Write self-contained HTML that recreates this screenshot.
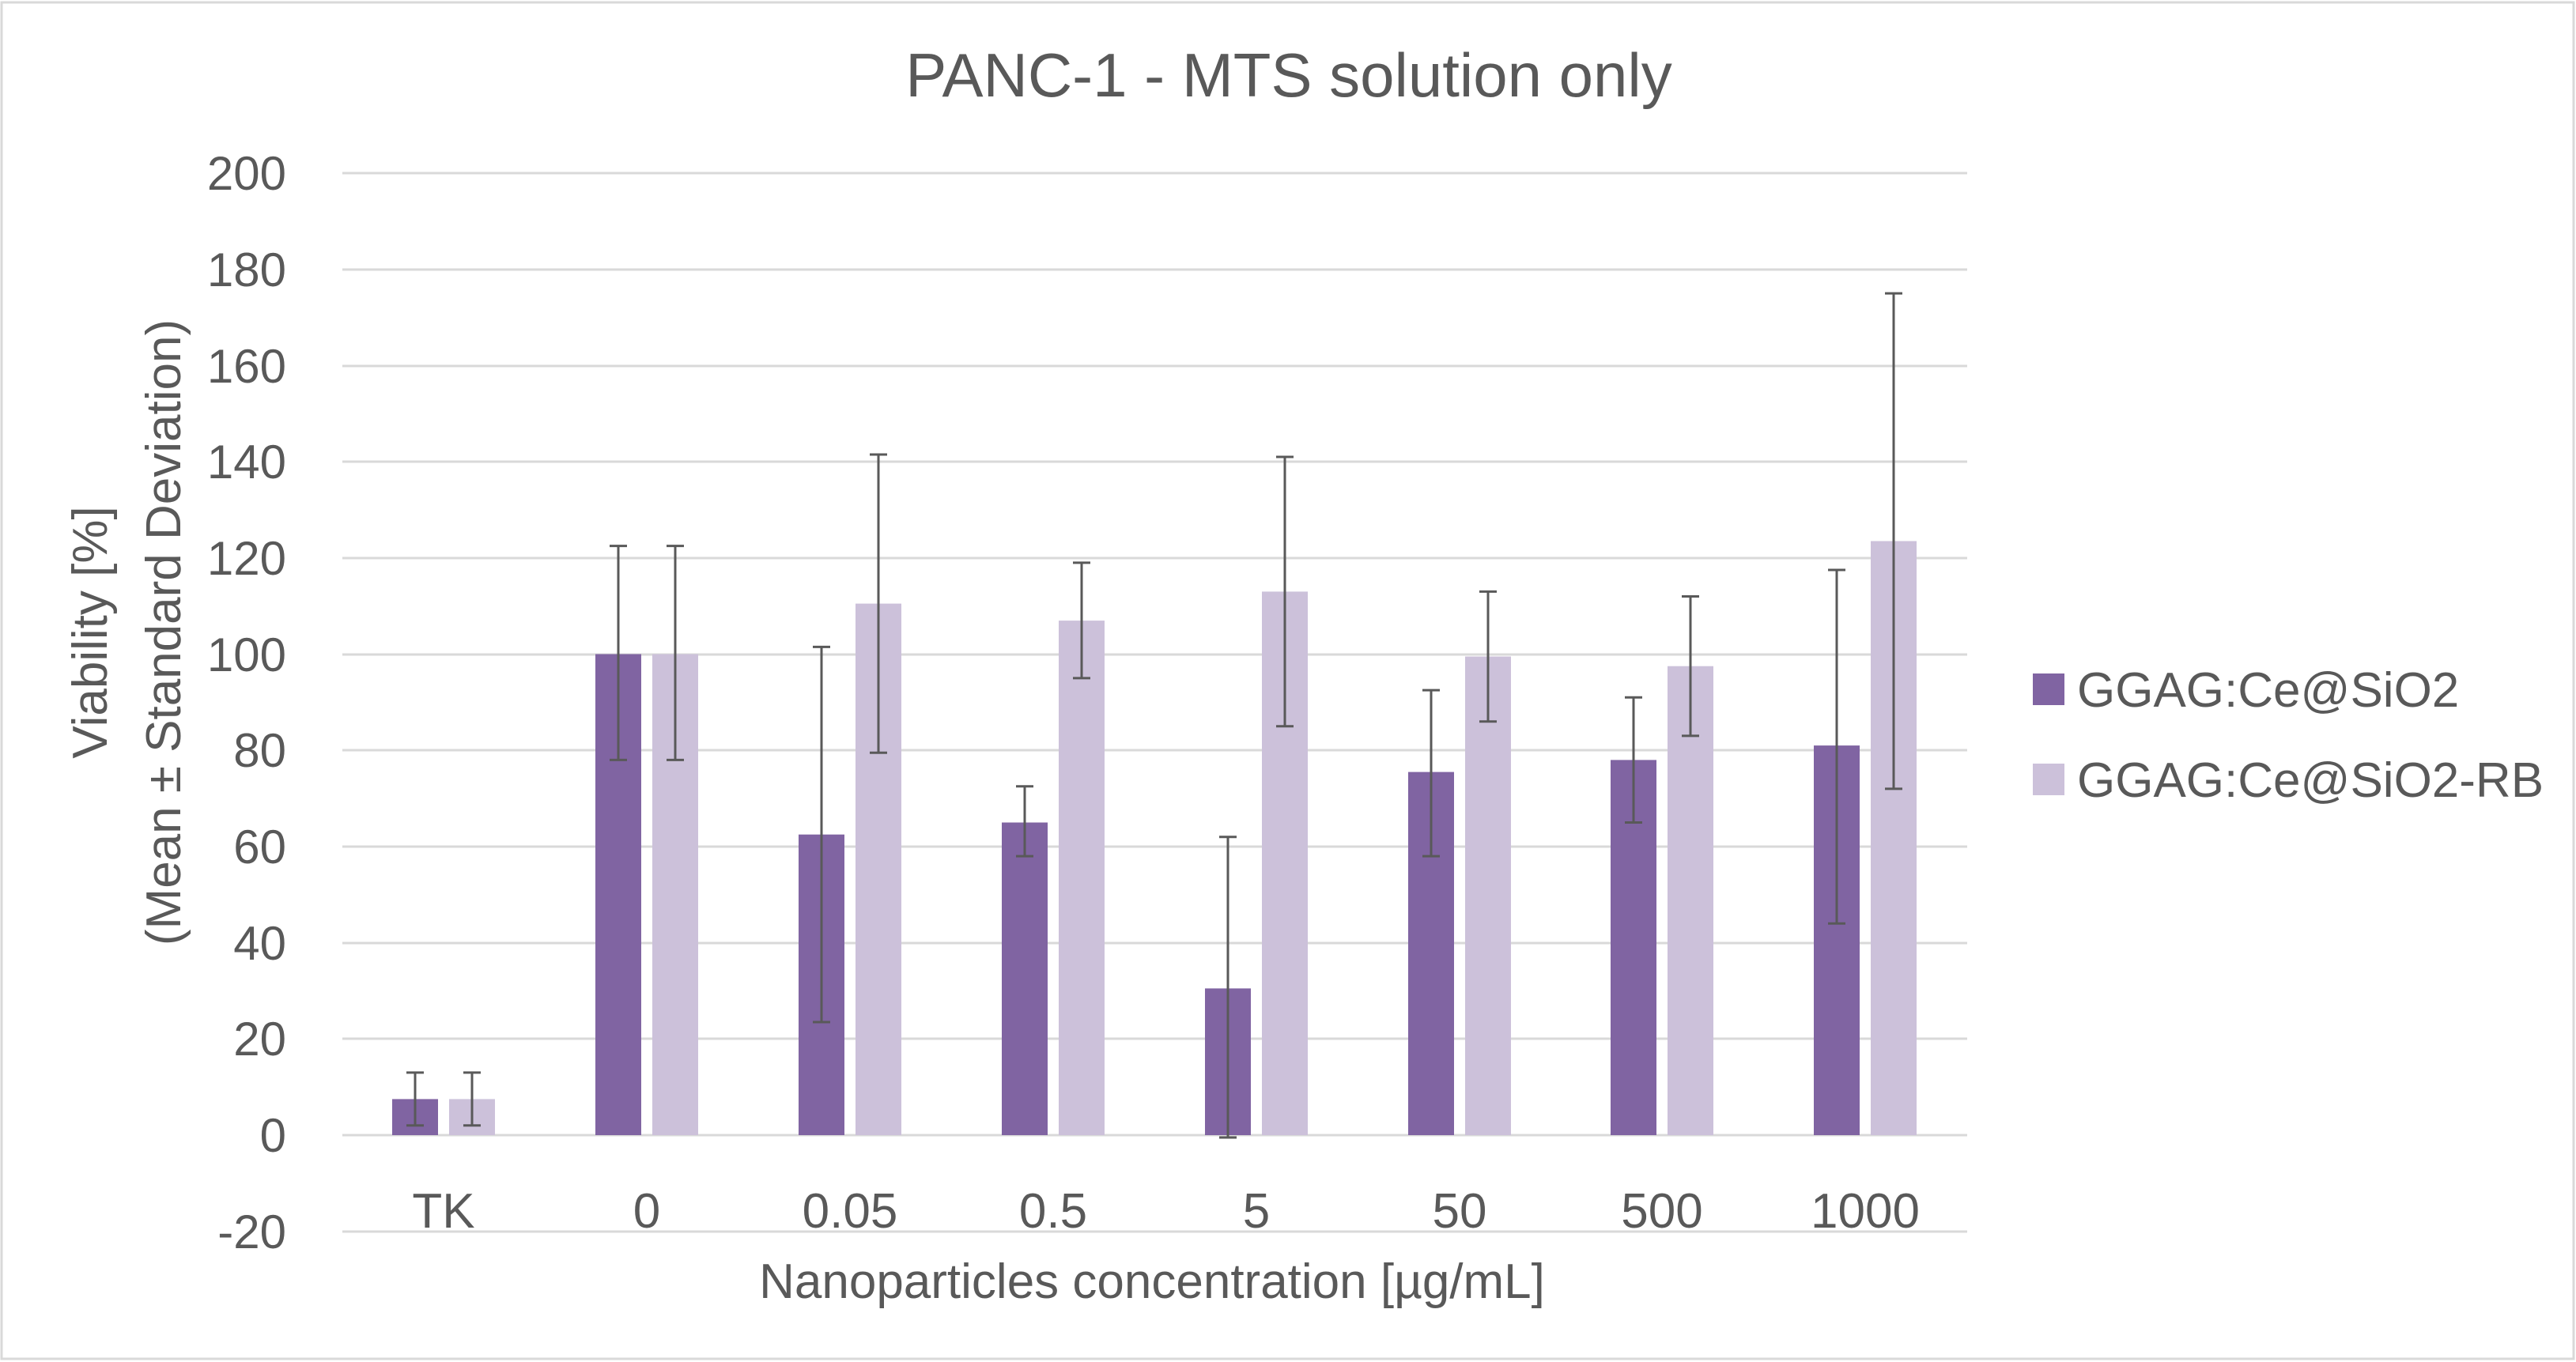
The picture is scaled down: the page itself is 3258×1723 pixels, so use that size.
<!DOCTYPE html>
<html><head><meta charset="utf-8"><style>
html,body{margin:0;padding:0;background:#fff;}
svg{display:block;}
text{font-family:"Liberation Sans",sans-serif;fill:#595959;}
</style></head><body>
<svg width="3258" height="1723" viewBox="0 0 3258 1723" xmlns="http://www.w3.org/2000/svg">
<rect x="2" y="3" width="3253" height="1716" fill="#fff" stroke="#d9d9d9" stroke-width="3"/>
<text x="1630" y="122" font-size="78" text-anchor="middle">PANC-1 - MTS solution only</text>
<g stroke="#d9d9d9" stroke-width="3">
<line x1="433" x2="2488" y1="219" y2="219"/>
<line x1="433" x2="2488" y1="341" y2="341"/>
<line x1="433" x2="2488" y1="463" y2="463"/>
<line x1="433" x2="2488" y1="584" y2="584"/>
<line x1="433" x2="2488" y1="706" y2="706"/>
<line x1="433" x2="2488" y1="828" y2="828"/>
<line x1="433" x2="2488" y1="949" y2="949"/>
<line x1="433" x2="2488" y1="1071" y2="1071"/>
<line x1="433" x2="2488" y1="1193" y2="1193"/>
<line x1="433" x2="2488" y1="1314" y2="1314"/>
<line x1="433" x2="2488" y1="1436" y2="1436"/>
<line x1="433" x2="2488" y1="1558" y2="1558"/>
</g>
<g font-size="60" text-anchor="end">
<text x="362" y="240">200</text>
<text x="362" y="362">180</text>
<text x="362" y="484">160</text>
<text x="362" y="605">140</text>
<text x="362" y="727">120</text>
<text x="362" y="849">100</text>
<text x="362" y="970">80</text>
<text x="362" y="1092">60</text>
<text x="362" y="1214">40</text>
<text x="362" y="1335">20</text>
<text x="362" y="1457">0</text>
<text x="362" y="1579">-20</text>
</g>
<g font-size="62" text-anchor="middle">
<text x="561" y="1553">TK</text>
<text x="818" y="1553">0</text>
<text x="1075" y="1553">0.05</text>
<text x="1332" y="1553">0.5</text>
<text x="1589" y="1553">5</text>
<text x="1846" y="1553">50</text>
<text x="2102" y="1553">500</text>
<text x="2359" y="1553">1000</text>
</g>
<text x="1457" y="1642" font-size="62" text-anchor="middle">Nanoparticles concentration [µg/mL]</text>
<text transform="translate(135,800) rotate(-90)" font-size="62" text-anchor="middle">Viability [%]</text>
<text transform="translate(228,800) rotate(-90)" font-size="62" text-anchor="middle">(Mean ± Standard Deviation)</text>

<g fill="#8064a2">
<rect x="496" y="1390.4" width="58" height="45.6"/>
<rect x="753" y="827.5" width="58" height="608.5"/>
<rect x="1010" y="1055.7" width="58" height="380.3"/>
<rect x="1267" y="1040.5" width="58" height="395.5"/>
<rect x="1524" y="1250.4" width="58" height="185.6"/>
<rect x="1781" y="976.6" width="58" height="459.4"/>
<rect x="2037" y="961.4" width="58" height="474.6"/>
<rect x="2294" y="943.1" width="58" height="492.9"/>
</g>
<g fill="#ccc1da">
<rect x="568" y="1390.4" width="58" height="45.6"/>
<rect x="825" y="827.5" width="58" height="608.5"/>
<rect x="1082" y="763.6" width="58" height="672.4"/>
<rect x="1339" y="785.1" width="58" height="650.9"/>
<rect x="1596" y="748.4" width="58" height="687.6"/>
<rect x="1853" y="830.5" width="58" height="605.5"/>
<rect x="2109" y="842.7" width="58" height="593.3"/>
<rect x="2366" y="684.5" width="58" height="751.5"/>
</g>
<g stroke="#595959" stroke-width="3" fill="none">
<path d="M525,1356.9V1423.8M514,1356.9h22M514,1423.8h22"/>
<path d="M597,1356.9V1423.8M586,1356.9h22M586,1423.8h22"/>
<path d="M782,690.6V961.4M771,690.6h22M771,961.4h22"/>
<path d="M854,690.6V961.4M843,690.6h22M843,961.4h22"/>
<path d="M1039,818.4V1293M1028,818.4h22M1028,1293h22"/>
<path d="M1111,575V952.2M1100,575h22M1100,952.2h22"/>
<path d="M1296,994.8V1083.1M1285,994.8h22M1285,1083.1h22"/>
<path d="M1368,711.9V857.9M1357,711.9h22M1357,857.9h22"/>
<path d="M1553,1058.7V1439M1542,1058.7h22M1542,1439h22"/>
<path d="M1625,578V918.8M1614,578h22M1614,918.8h22"/>
<path d="M1810,873.1V1083.1M1799,873.1h22M1799,1083.1h22"/>
<path d="M1882,748.4V912.7M1871,748.4h22M1871,912.7h22"/>
<path d="M2066,882.3V1040.5M2055,882.3h22M2055,1040.5h22"/>
<path d="M2138,754.5V930.9M2127,754.5h22M2127,930.9h22"/>
<path d="M2323,721V1168.3M2312,721h22M2312,1168.3h22"/>
<path d="M2395,371.1V997.9M2384,371.1h22M2384,997.9h22"/>
</g>

<rect x="2571" y="852" width="40" height="40" fill="#8064a2"/>
<rect x="2571" y="966" width="40" height="40" fill="#ccc1da"/>
<text x="2627" y="894" font-size="62">GGAG:Ce@SiO2</text>
<text x="2627" y="1008" font-size="62">GGAG:Ce@SiO2-RB</text>
</svg>
</body></html>
